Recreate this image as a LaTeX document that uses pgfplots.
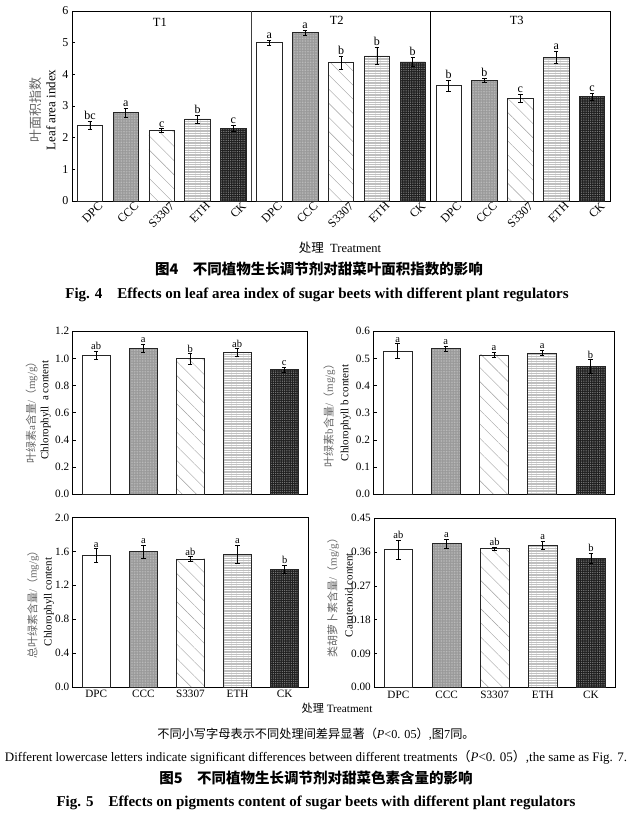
\documentclass[border=0pt]{standalone}
\usepackage{pgfplots}
\pgfplotsset{compat=1.18}
\usepackage{pgfplotstable}
\usepackage{fontspec}
\setmainfont{Liberation Serif}
\newfontfamily\cjk{Noto Sans CJK SC}
\usetikzlibrary{patterns,patterns.meta}

% leaf area index, one table per treatment (T1, T2, T3)
\pgfplotstableread{
x  y    err  lab
0  2.40 0.13 bc
5  5.00 0.08 a
10 3.64 0.17 b
}\fDPC
\pgfplotstableread{
x  y    err  lab
1  2.79 0.14 a
6  5.31 0.08 a
11 3.81 0.07 b
}\fCCC
\pgfplotstableread{
x  y    err  lab
2  2.22 0.06 c
7  4.37 0.21 b
12 3.25 0.13 c
}\fSSS
\pgfplotstableread{
x  y    err  lab
3  2.59 0.13 b
8  4.58 0.27 b
13 4.54 0.19 a
}\fETH
\pgfplotstableread{
x  y    err  lab
4  2.30 0.10 c
9  4.39 0.15 b
14 3.29 0.12 c
}\fCK

% pigments: DPC CCC S3307 ETH CK
\pgfplotstableread{
x y     err   lab
0 1.025 0.028 ab
1 1.075 0.028 a
2 0.998 0.038 b
3 1.045 0.026 ab
4 0.917 0.018 c
}\chla
\pgfplotstableread{
x y     err   lab
0 0.528 0.027 a
1 0.536 0.009 a
2 0.513 0.010 a
3 0.520 0.010 a
4 0.471 0.024 b
}\chlb
\pgfplotstableread{
x y     err   lab
0 1.551 0.083 a
1 1.598 0.079 a
2 1.512 0.026 ab
3 1.567 0.110 a
4 1.390 0.047 b
}\chlt
\pgfplotstableread{
x y      err    lab
0 0.367  0.025  ab
1 0.3825 0.012  a
2 0.369  0.0045 ab
3 0.378  0.011  a
4 0.343  0.014  b
}\caro

\pgfplotsset{
  bb/.style={ybar, draw=black!85, line width=0.7pt,
    error bars/y dir=both, error bars/y explicit,
    error bars/error bar style={line width=0.7pt, black},
    error bars/error mark options={rotate=90, mark size=2.2pt, line width=0.7pt, black}},
  bDPC/.style={bb, fill=white},
  bCCC/.style={bb, fill=gray!80, postaction={pattern={Dots[distance=1.6pt,radius=0.45pt]}, pattern color=gray!45}},
  bSSS/.style={bb, fill=white, postaction={pattern={Lines[angle=-45,distance=10pt,line width=0.4pt]}, pattern color=gray!75}},
  bETH/.style={bb, fill=gray!50, postaction={pattern={Lines[angle=0,distance=2.4pt,line width=0.6pt]}, pattern color=white}},
  bCK/.style={bb, fill=black!88, postaction={pattern={Dots[distance=1.8pt,radius=0.4pt]}, pattern color=gray!55}},
  letters/.style={draw=none, mark=none, nodes near coords, point meta=explicit symbolic,
    nodes near coords style={anchor=south, inner sep=1.2pt}},
  base/.style={scale only axis, anchor=south west, clip=false,
    tick align=inside, xtick pos=bottom, ytick pos=left, major tick length=3pt,
    axis line style={line width=0.8pt}, every tick/.style={black, line width=0.7pt},
    /pgf/number format/assume math mode=true},
  f5/.style={base, xmin=-0.5, xmax=4.5, xtick={0,...,4}, bar width=0.6, ymin=0,
    ticklabel style={font=\fontsize{11.2}{12}\selectfont},
    nodes near coords style={font=\fontsize{10.5}{11}\selectfont},
    yticklabel style={/pgf/number format/fixed, /pgf/number format/fixed zerofill}},
}

\newcommand{\fivebars}[1]{%
  \addplot[bDPC, restrict x to domain=-0.2:0.2] table[x=x, y=y, y error=err] {#1};
  \addplot[bCCC, restrict x to domain=0.8:1.2] table[x=x, y=y, y error=err] {#1};
  \addplot[bSSS, restrict x to domain=1.8:2.2] table[x=x, y=y, y error=err] {#1};
  \addplot[bETH, restrict x to domain=2.8:3.2] table[x=x, y=y, y error=err] {#1};
  \addplot[bCK, restrict x to domain=3.8:4.2] table[x=x, y=y, y error=err] {#1};
  \addplot[letters] table[x=x, y expr=\thisrow{y}+\thisrow{err}, meta=lab] {#1};
}

\begin{document}
\begin{tikzpicture}
\useasboundingbox (0,0) rectangle (633pt,-821pt);

% ---------- Fig. 4 ----------
\begin{axis}[base, at={(72pt,-201pt)}, width=538pt, height=190pt,
  xmin=-0.5, xmax=14.5, ymin=0, ymax=6, ytick={0,...,6}, xtick={0,...,14},
  xticklabels={DPC,CCC,S3307,ETH,CK,DPC,CCC,S3307,ETH,CK,DPC,CCC,S3307,ETH,CK},
  xticklabel style={rotate=45, anchor=north east, inner sep=0.5pt, xshift=6pt, yshift=-5pt, font=\fontsize{12}{12}\selectfont},
  yticklabel style={font=\fontsize{12}{12}\selectfont},
  nodes near coords style={font=\fontsize{12}{12}\selectfont},
  bar width=0.71]
  \addplot[bDPC] table[x=x, y=y, y error=err] {\fDPC};
  \addplot[bCCC] table[x=x, y=y, y error=err] {\fCCC};
  \addplot[bSSS] table[x=x, y=y, y error=err] {\fSSS};
  \addplot[bETH] table[x=x, y=y, y error=err] {\fETH};
  \addplot[bCK]  table[x=x, y=y, y error=err] {\fCK};
  \addplot[letters] table[x=x, y expr=\thisrow{y}+\thisrow{err}, meta=lab] {\fDPC};
  \addplot[letters] table[x=x, y expr=\thisrow{y}+\thisrow{err}, meta=lab] {\fCCC};
  \addplot[letters] table[x=x, y expr=\thisrow{y}+\thisrow{err}, meta=lab] {\fSSS};
  \addplot[letters] table[x=x, y expr=\thisrow{y}+\thisrow{err}, meta=lab] {\fETH};
  \addplot[letters] table[x=x, y expr=\thisrow{y}+\thisrow{err}, meta=lab] {\fCK};
  \draw[line width=0.8pt, black!75] (axis cs:4.5,0) -- (axis cs:4.5,6);
  \draw[line width=0.8pt, black] (axis cs:9.5,0) -- (axis cs:9.5,6);
  \node[font=\fontsize{12.5}{12}\selectfont] at (axis cs:1.95,5.63) {T1};
  \node[font=\fontsize{12.5}{12}\selectfont] at (axis cs:6.88,5.70) {T2};
  \node[font=\fontsize{12.5}{12}\selectfont] at (axis cs:11.9,5.70) {T3};
\end{axis}
\node[rotate=90, align=center, font=\fontsize{13}{15}\selectfont] at (42.5pt,-110pt)
  {{\cjk\color{black!60}叶面积指数}\\Leaf area index};
\node[font=\fontsize{12.5}{13}\selectfont] at (340pt,-248pt) {{\cjk 处理}\ \ Treatment};
\node[font=\cjk\bfseries\fontsize{14.5}{16}\selectfont] at (319pt,-269pt)
  {图\textbf{4}\quad 不同植物生长调节剂对甜菜叶面积指数的影响};
\node[font=\bfseries\fontsize{15}{16}\selectfont] at (317pt,-295pt)
  {Fig. 4\quad Effects on leaf area index of sugar beets with different plant regulators};

% ---------- Fig. 5 ----------
\begin{axis}[f5, at={(72.7pt,-494.3pt)}, width=235pt, height=163pt,
  ymax=1.2, ytick={0,0.2,0.4,0.6,0.8,1.0,1.2}, xticklabels={},
  yticklabel style={/pgf/number format/precision=1}]
  \fivebars{\chla}
\end{axis}
\node[rotate=90, align=center, font=\fontsize{11}{13.3}\selectfont] at (38.3pt,-410pt)
  {{\color{black!60}{\cjk 叶绿素}a{\cjk 含量}/{\cjk （}mg/g{\cjk ）}}\\Chlorophyll\ \ a content};

\begin{axis}[f5, at={(373.5pt,-494.3pt)}, width=241pt, height=163pt,
  ymax=0.6, ytick={0,0.1,0.2,0.3,0.4,0.5,0.6}, xticklabels={},
  yticklabel style={/pgf/number format/precision=1}]
  \fivebars{\chlb}
\end{axis}
\node[rotate=90, align=center, font=\fontsize{11}{15.5}\selectfont] at (337pt,-413pt)
  {{\color{black!60}{\cjk 叶绿素}b{\cjk 含量}/{\cjk （}mg/g{\cjk ）}}\\Chlorophyll b content};

\begin{axis}[f5, at={(72.7pt,-687pt)}, width=235.5pt, height=169.5pt,
  ymax=2.0, ytick={0,0.4,0.8,1.2,1.6,2.0},
  xticklabels={DPC,CCC,S3307,ETH,CK},
  yticklabel style={/pgf/number format/precision=1}]
  \fivebars{\chlt}
\end{axis}
\node[rotate=90, align=center, font=\fontsize{11}{15}\selectfont] at (40.5pt,-602pt)
  {{\color{black!60}{\cjk 总叶绿素含量}/{\cjk （}mg/g{\cjk ）}}\\Chlorophyll content};

\begin{axis}[f5, at={(374.3pt,-687.3pt)}, width=240.7pt, height=169pt,
  ymax=0.45, ytick={0,0.09,0.18,0.27,0.36,0.45},
  xticklabels={DPC,CCC,S3307,ETH,CK},
  yticklabel style={/pgf/number format/precision=2}]
  \fivebars{\caro}
\end{axis}
\node[rotate=90, align=center, font=\fontsize{11}{16}\selectfont] at (340pt,-595pt)
  {{\color{black!60}{\cjk 类胡萝卜素含量}/{\cjk （}mg/g{\cjk ）}}\\Carotenoid content};

\node[font=\fontsize{11.2}{12}\selectfont] at (337pt,-708pt) {{\cjk 处理}\ Treatment};
\node[font=\fontsize{12.2}{13}\selectfont] at (316pt,-734pt)
  {{\cjk 不同小写字母表示不同处理间差异显著（}\textit{P}<0. 05{\cjk ）},{\cjk 图}7{\cjk 同。}};
\node[font=\fontsize{13}{14}\selectfont] at (316pt,-757pt)
  {Different lowercase letters indicate significant differences between different treatments{\cjk （}\textit{P}<0. 05{\cjk ）},the same as Fig. 7.};
\node[font=\cjk\bfseries\fontsize{14.5}{16}\selectfont] at (316pt,-778pt)
  {图\textbf{5}\quad 不同植物生长调节剂对甜菜色素含量的影响};
\node[font=\bfseries\fontsize{15}{16}\selectfont] at (316pt,-803pt)
  {Fig. 5\quad Effects on pigments content of sugar beets with different plant regulators};
\end{tikzpicture}
\end{document}
